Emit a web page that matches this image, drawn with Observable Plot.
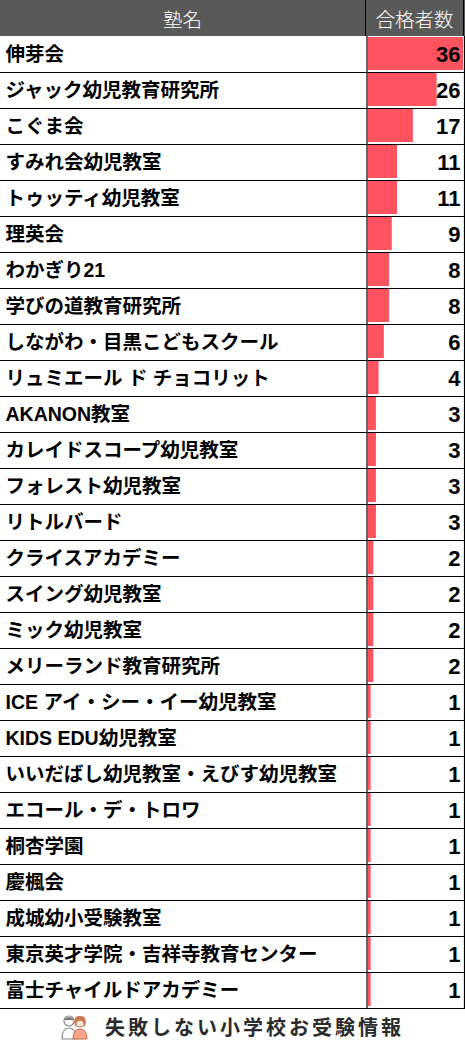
<!DOCTYPE html>
<html>
<head>
<meta charset="utf-8">
<script src="https://cdn.jsdelivr.net/npm/d3@7"></script>
<script src="https://cdn.jsdelivr.net/npm/@observablehq/plot@0.6"></script>
<style>
  html, body { margin: 0; padding: 0; background: #fff; }
  #wrap { width: 465px; }
  .hdr { display: flex; height: 36px; background: #595959; color: #fff;
         font-family: "Noto Sans CJK JP", "Noto Sans", sans-serif; font-size: 19.5px; font-weight: 300; }
  .hdr div { display: flex; align-items: center; justify-content: center; box-sizing: border-box; }
  .hdr .c1 { width: 366px; border-right: 1px solid #000; }
  .hdr .c2 { width: 98px; border-right: 1px solid #000; }
  .ftr { height: 37px; display: flex; align-items: center; justify-content: center;
         font-family: "Noto Sans CJK JP", sans-serif; font-weight: 700; font-size: 20px;
         color: #2b2b2b; letter-spacing: 3px; }
  .ftr svg { margin-right: 16px; }
  #chart svg { display: block; }
</style>
</head>
<body>
<div id="wrap">
  <div class="hdr"><div class="c1">塾名</div><div class="c2">合格者数</div></div>
  <div id="chart"></div>
  <div class="ftr">
    <svg width="28" height="26" viewBox="0 0 28 26">
      <circle cx="8" cy="7" r="5" fill="#fff" stroke="#888" stroke-width="1.2"/>
      <path d="M3 6 Q8 0 13 6" fill="#777"/>
      <path d="M1 25 Q1 14 8 14 Q15 14 15 25 Z" fill="#fff" stroke="#888" stroke-width="1.2"/>
      <circle cx="19" cy="8" r="5" fill="#fbe3d6" stroke="#b56b4a" stroke-width="1"/>
      <path d="M13.5 9 Q13 1 19 2 Q25 1 24.5 9 L24 14 L22 8 Q19 5 16 8 L14 14 Z" fill="#c9794f"/>
      <path d="M12 25 Q12 15 19 15 Q26 15 26 25 Z" fill="#f4a58a" stroke="#c56b55" stroke-width="1"/>
    </svg>
    <span>失敗しない小学校お受験情報</span>
  </div>
</div>
<script>
const names = ["伸芽会","ジャック幼児教育研究所","こぐま会","すみれ会幼児教室","トゥッティ幼児教室","理英会","わかぎり21","学びの道教育研究所","しながわ・目黒こどもスクール","リュミエール ド チョコリット","AKANON教室","カレイドスコープ幼児教室","フォレスト幼児教室","リトルバード","クライスアカデミー","スイング幼児教室","ミック幼児教室","メリーランド教育研究所","ICE アイ・シー・イー幼児教室","KIDS EDU幼児教室","いいだばし幼児教室・えびす幼児教室","エコール・デ・トロワ","桐杏学園","慶楓会","成城幼小受験教室","東京英才学院・吉祥寺教育センター","富士チャイルドアカデミー"];
const values = [36,26,17,11,11,9,8,8,6,4,3,3,3,3,2,2,2,2,1,1,1,1,1,1,1,1,1];

const data = names.map((name, i) => ({name, value: values[i]}));
const font = '"Liberation Sans", "Noto Sans CJK JP", sans-serif';

const chart = Plot.plot({
  width: 465,
  height: 972,
  marginTop: 0, marginBottom: 0, marginLeft: 0, marginRight: 0,
  style: {fontFamily: font, background: "#fff", overflow: "visible"},
  x: {domain: [0, 36], range: [368, 463], axis: null},
  y: {domain: names, padding: 0, axis: null},
  marks: [
    Plot.barX(data, {x: "value", y: "name", fill: "#ff5460", insetTop: 1, insetBottom: 2}),
    Plot.ruleY(data, {y: "name", dy: 18, stroke: "#000", strokeWidth: 1.2}),
    Plot.ruleX([0], {dx: -1.5, stroke: "#000", strokeWidth: 1.2}),
    Plot.ruleX([36], {dx: 1, stroke: "#000", strokeWidth: 1.2}),
    Plot.text(data, {y: "name", text: "name", frameAnchor: "left", dx: 5, textAnchor: "start",
      fontSize: 19.5, fontWeight: "bold", fill: "#000", fontFamily: font}),
    Plot.text(data, {y: "name", text: d => String(d.value), frameAnchor: "right", dx: -5, textAnchor: "end",
      fontSize: 22, fontWeight: "bold", fill: "#000", fontFamily: font})
  ]
});
document.getElementById("chart").appendChild(chart);
</script>
</body>
</html>
